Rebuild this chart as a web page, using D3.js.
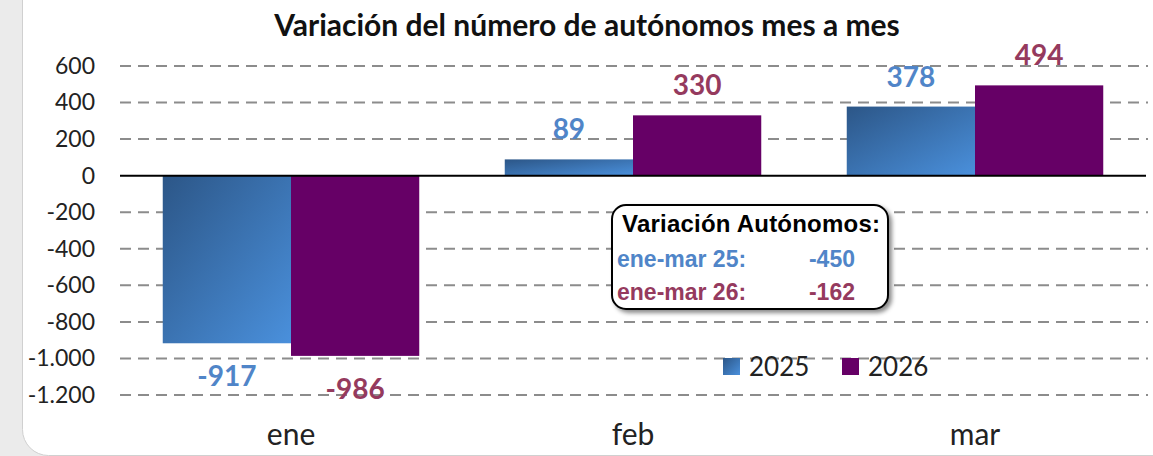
<!DOCTYPE html>
<html>
<head>
<meta charset="utf-8">
<script src="https://cdn.jsdelivr.net/npm/d3@7"></script>
<style>
  body { margin: 0; background: #ebebeb; }
  svg { display: block; }
</style>
</head>
<body>
<div id="chart"></div>
<script>
// Data
let months = ["ene", "feb", "mar"];
let series = ["2025", "2026"];
let values2025 = [-917, 89, 378];
let values2026 = [-986, 330, 494];
let yTicks = [600, 400, 200, 0, -200, -400, -600, -800, -1000, -1200];
let summaryLabels = ["ene-mar 25:", "ene-mar 26:"];
let summaryValues = [-450, -162];

let width = 1153;
let height = 456;

let labelColors = ["#5085c8", "#953a5e"];
let mainFont = 'Lato, "Open Sans", sans-serif';
let boxFont = '"Liberation Sans", Arial, sans-serif';

let svg = d3.select('#chart')
  .append('svg')
  .attr('width', width)
  .attr('height', height);

let defs = svg.append('defs');

// Gradient for 2025 bars
let grad = defs.append('linearGradient')
  .attr('id', 'blueGrad')
  .attr('x1', '0%').attr('y1', '0%')
  .attr('x2', '100%').attr('y2', '100%');
grad.append('stop').attr('offset', '0%').attr('stop-color', '#2c5687');
grad.append('stop').attr('offset', '100%').attr('stop-color', '#4a90dc');

let shadow = defs.append('filter').attr('id', 'shadow')
  .attr('x', '-10%').attr('y', '-10%').attr('width', '130%').attr('height', '130%');
shadow.append('feDropShadow')
  .attr('dx', 3).attr('dy', 3).attr('stdDeviation', 2)
  .attr('flood-color', '#000').attr('flood-opacity', 0.45);

// White panel
svg.append('rect')
  .attr('x', 22.5).attr('y', -30)
  .attr('width', 1160).attr('height', 485.5)
  .attr('rx', 26)
  .attr('fill', '#fff')
  .attr('stroke', '#d0d0d0');

// Scales
let x = d3.scaleBand()
  .domain(months)
  .range([120, 1146])
  .paddingInner(0.25)
  .paddingOuter(0.125);

let xs = d3.scaleBand()
  .domain(series)
  .range([0, x.bandwidth()]);

let y = d3.scaleLinear()
  .domain([-1200, 600])
  .range([395, 66]);

// Title
svg.append('text')
  .attr('x', 587).attr('y', 36)
  .attr('text-anchor', 'middle')
  .attr('font-family', mainFont)
  .attr('font-weight', 'bold')
  .attr('font-size', 30)
  .attr('fill', '#111')
  .text('Variación del número de autónomos mes a mes');

// Gridlines
svg.append('g')
  .selectAll('line')
  .data(yTicks.filter(function(d){ return d !== 0; }))
  .enter().append('line')
  .attr('x1', 120).attr('x2', 1148)
  .attr('y1', function(d){ return y(d); })
  .attr('y2', function(d){ return y(d); })
  .attr('stroke', '#8c8c8c')
  .attr('stroke-width', 2)
  .attr('stroke-dasharray', '11,7');

// Y axis labels
let yAxis = d3.axisLeft(y)
  .tickValues(yTicks)
  .tickSize(0)
  .tickPadding(0)
  .tickFormat(function(d){ return d3.format(',')(d).replace(/,/g, '.').replace('−', '-'); });

let yg = svg.append('g')
  .attr('transform', 'translate(95,0)')
  .call(yAxis);
yg.select('.domain').remove();
yg.selectAll('text')
  .attr('font-family', mainFont)
  .attr('font-size', 23)
  .attr('fill', '#222');

// Bars
let rows = months.map(function(m, i){
  return [
    {month: m, s: "2025", v: values2025[i]},
    {month: m, s: "2026", v: values2026[i]}
  ];
});
let flat = [].concat.apply([], rows);

svg.append('g')
  .selectAll('rect')
  .data(flat)
  .enter().append('rect')
  .attr('x', function(d){ return x(d.month) + xs(d.s); })
  .attr('width', xs.bandwidth())
  .attr('y', function(d){ return y(Math.max(0, d.v)); })
  .attr('height', function(d){ return Math.abs(y(d.v) - y(0)); })
  .attr('fill', function(d){ return d.s === "2025" ? 'url(#blueGrad)' : '#660066'; });

// Zero line
svg.append('line')
  .attr('x1', 120).attr('x2', 1146)
  .attr('y1', y(0)).attr('y2', y(0))
  .attr('stroke', '#000')
  .attr('stroke-width', 2);

// Value labels
svg.append('g')
  .selectAll('text')
  .data(flat)
  .enter().append('text')
  .attr('x', function(d){ return x(d.month) + xs(d.s) + xs.bandwidth() / 2; })
  .attr('y', function(d){ return d.v >= 0 ? y(d.v) - 20 : y(d.v) + 43; })
  .attr('text-anchor', 'middle')
  .attr('font-family', mainFont)
  .attr('font-weight', 'bold')
  .attr('font-size', 28)
  .attr('fill', function(d){ return d.s === "2025" ? labelColors[0] : labelColors[1]; })
  .text(function(d){ return d.v; });

// X axis labels
let xAxis = d3.axisBottom(x).tickSize(0).tickPadding(0);
let xg = svg.append('g')
  .attr('transform', 'translate(0,424)')
  .call(xAxis);
xg.select('.domain').remove();
xg.selectAll('text')
  .attr('font-family', mainFont)
  .attr('font-size', 30)
  .attr('fill', '#222');

// Legend
let legend = svg.append('g');
series.forEach(function(s, i){
  let lx = 723 + i * 119;
  legend.append('rect')
    .attr('x', lx).attr('y', 358)
    .attr('width', 17).attr('height', 17)
    .attr('fill', i === 0 ? 'url(#blueGrad)' : '#660066');
  legend.append('text')
    .attr('x', lx + 26).attr('y', 376)
    .attr('font-family', mainFont)
    .attr('font-size', 26)
    .attr('fill', '#222')
    .text(s);
});

// Annotation box
let box = svg.append('g');
box.append('rect')
  .attr('x', 612).attr('y', 205)
  .attr('width', 276).attr('height', 104)
  .attr('rx', 14)
  .attr('fill', '#fff')
  .attr('stroke', '#000')
  .attr('stroke-width', 2)
  .attr('filter', 'url(#shadow)');
box.append('text')
  .attr('x', 622).attr('y', 232)
  .attr('font-family', boxFont)
  .attr('font-weight', 'bold')
  .attr('font-size', 24)
  .attr('textLength', 258)
  .attr('fill', '#000')
  .text('Variación Autónomos:');
summaryLabels.forEach(function(l, i){
  box.append('text')
    .attr('x', 617).attr('y', 267 + i * 33)
    .attr('font-family', boxFont)
    .attr('font-weight', 'bold')
    .attr('font-size', 23)
    .attr('fill', labelColors[i])
    .text(l);
  box.append('text')
    .attr('x', 855).attr('y', 267 + i * 33)
    .attr('text-anchor', 'end')
    .attr('font-family', boxFont)
    .attr('font-weight', 'bold')
    .attr('font-size', 23)
    .attr('fill', labelColors[i])
    .text(summaryValues[i]);
});
</script>
</body>
</html>
